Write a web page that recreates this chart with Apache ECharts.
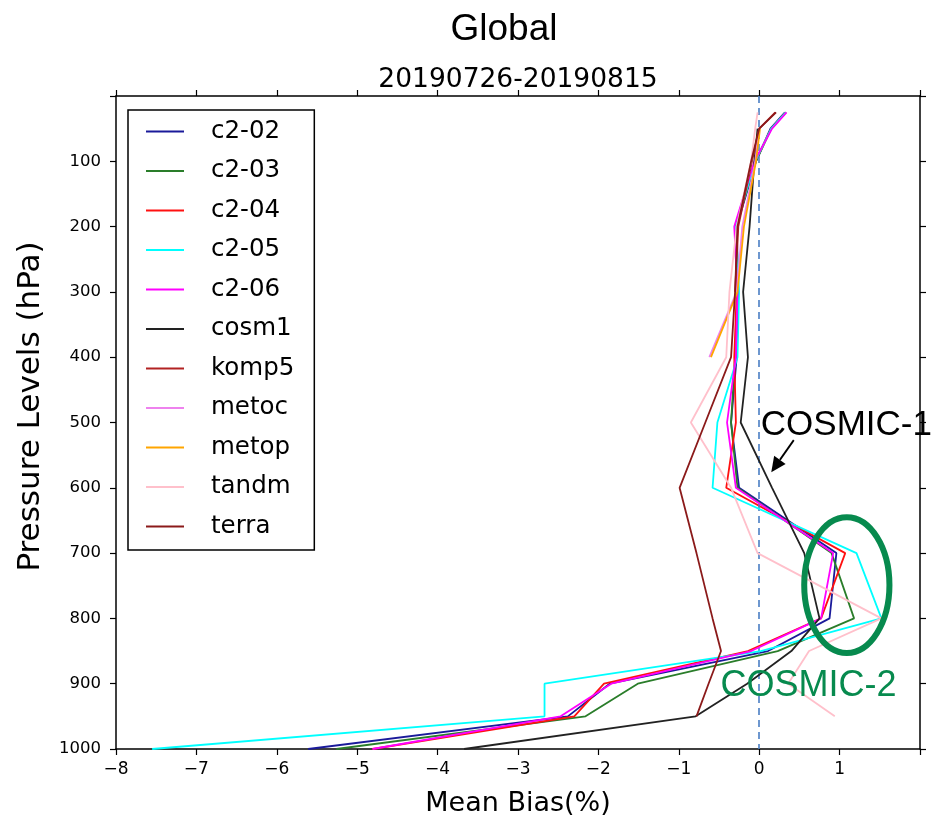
<!DOCTYPE html>
<html><head><meta charset="utf-8">
<script src="https://cdn.jsdelivr.net/npm/echarts@6/dist/echarts.min.js"></script>
<style>html,body{margin:0;padding:0;background:#fff}#c{width:936px;height:822px}</style>
</head><body><div id="c"></div>
<script>
// Pressure levels (hPa)
const levels = [25, 50, 100, 200, 300, 400, 500, 600, 700, 800, 850, 900, 950, 1000];
// Mean bias (%) per level, null = no data
const c2_02 = [0.32, 0.14, -0.04, -0.28, -0.26, -0.28, -0.35, -0.25, 0.96, 0.875, 0.11, -1.86, -2.38, -5.61];
const c2_03 = [0.33, 0.15, -0.04, -0.29, -0.27, -0.30, -0.35, -0.27, 0.90, 1.18, 0.23, -1.51, -2.16, -5.26];
const c2_04 = [0.33, 0.15, -0.05, -0.30, -0.28, -0.31, -0.29, -0.41, 1.07, 0.77, -0.14, -1.93, -2.30, -4.81];
const c2_05 = [0.33, 0.15, -0.05, -0.29, -0.25, -0.27, -0.52, -0.58, 1.21, 1.52, 0.02, -2.67, -2.67, -7.55];
const c2_06 = [0.34, 0.16, -0.06, -0.31, -0.27, -0.29, -0.40, -0.29, 0.92, 0.77, -0.10, -1.84, -2.47, -4.81];
const cosm1 = [null, -0.02, -0.06, -0.12, -0.20, -0.14, -0.23, 0.16, 0.56, 0.75, 0.40, -0.15, -0.79, -3.67];
const komp5 = [0.20, 0.00, -0.09, -0.26, -0.30, null, null, null, null, null, null, null, null, null];
const metoc = [null, 0.00, -0.05, -0.21, -0.28, -0.62, null, null, null, null, null, null, null, null];
const metop = [null, 0.01, -0.04, -0.19, -0.27, -0.60, null, null, null, null, null, null, null, null];
const tandm = [-0.02, -0.05, -0.10, -0.28, -0.37, -0.41, -0.85, -0.35, -0.02, 1.52, 0.62, 0.36, 0.94, null];
const terra = [0.21, 0.00, -0.10, -0.27, -0.30, -0.35, -0.67, -0.99, -0.78, -0.58, -0.475, -0.63, -0.78, null];

const seriesNames = ['c2-02','c2-03','c2-04','c2-05','c2-06','cosm1','komp5','metoc','metop','tandm','terra'];
const seriesValues = [c2_02, c2_03, c2_04, c2_05, c2_06, cosm1, komp5, metoc, metop, tandm, terra];
const seriesColors = ['#1a1a9a','#2a7d2a','#ff1010','#00ffff','#ff00ff','#222222','#b22222','#ee82ee','#ffa500','#ffc0cb','#8b1a1a'];

// Axis ticks
const xTicks = {min: -8, max: 2, interval: 1};
const yTicks = {min: 0, max: 1000, interval: 100};

// Annotation anchors in data coordinates [bias, pressure]
const cosmic1Text = [0.02, 508];
const arrowFrom = [0.43, 527];
const arrowTo = [0.15, 576];
const ellipseCenter = [1.09, 749];
const cosmic2Text = [-0.48, 907];

const chart = echarts.init(document.getElementById('c'), null, {renderer: 'canvas'});
const fmtMinus = v => String(v).replace('-', '\u2212');

const series = seriesNames.map((n, i) => {
  const data = [];
  levels.forEach((p, j) => { if (seriesValues[i][j] !== null) data.push([seriesValues[i][j], p]); });
  const s = {
    name: n, type: 'line', data: data, showSymbol: false, symbol: 'none',
    lineStyle: {color: seriesColors[i], width: 1.8}, itemStyle: {color: seriesColors[i]},
    emphasis: {disabled: true}, silent: true, animation: false, z: 2 + i
  };
  if (i === 0) {
    s.markLine = {silent: true, symbol: 'none', animation: false,
      label: {show: false},
      lineStyle: {color: '#4a7ec4', type: [7, 5], width: 1.6},
      data: [{xAxis: 0}]};
  }
  return s;
});

const axisCommon = {
  axisLine: {show: true, onZero: false, lineStyle: {color: '#000', width: 1.5}},
  axisTick: {show: true, inside: false, length: 6, lineStyle: {color: '#000', width: 1.2}},
  splitLine: {show: false}
};

chart.setOption({
  animation: false,
  backgroundColor: '#fff',
  title: [
    {text: 'Global', left: 499, top: 6, textAlign: 'center',
     textStyle: {fontFamily: 'Liberation Sans', fontSize: 37, fontWeight: 'normal', color: '#000'}},
    {text: '20190726-20190815', left: 513, top: 62, textAlign: 'center',
     textStyle: {fontFamily: 'DejaVu Sans', fontSize: 26.5, fontWeight: 'normal', color: '#000'}}
  ],
  grid: {left: 116, right: 16, top: 96, bottom: 73},
  xAxis: [
    Object.assign({type: 'value', position: 'bottom', min: xTicks.min, max: xTicks.max, interval: xTicks.interval,
      name: 'Mean Bias(%)', nameLocation: 'middle', nameGap: 41,
      nameTextStyle: {fontFamily: 'DejaVu Sans', fontSize: 27, color: '#000'},
      axisLabel: {formatter: v => v === xTicks.max ? '' : fmtMinus(v), fontFamily: 'DejaVu Sans', fontSize: 17, color: '#000', margin: 12}}, axisCommon),
    Object.assign({type: 'value', position: 'top', min: xTicks.min, max: xTicks.max, interval: xTicks.interval,
      axisLabel: {show: false}}, axisCommon)
  ],
  yAxis: [
    Object.assign({type: 'value', position: 'left', inverse: true, min: yTicks.min, max: yTicks.max, interval: yTicks.interval,
      axisLabel: {formatter: v => v === 0 ? '' : String(v), fontFamily: 'DejaVu Sans', fontSize: 16.5, color: '#000', margin: 15}}, axisCommon),
    Object.assign({type: 'value', position: 'right', inverse: true, min: yTicks.min, max: yTicks.max, interval: yTicks.interval,
      axisLabel: {show: false}}, axisCommon)
  ],
  legend: {
    orient: 'vertical', left: 128, top: 110,
    data: seriesNames,
    icon: 'rect', itemWidth: 38, itemHeight: 2, itemGap: 14.5,
    backgroundColor: '#fff', borderColor: '#000', borderWidth: 1.5, borderRadius: 0,
    padding: [9, 20, 11, 18],
    textStyle: {fontFamily: 'DejaVu Sans', fontSize: 24.5, color: '#000', lineHeight: 24, padding: [0, 0, 0, 22]},
    selectedMode: false
  },
  series: series
});

// Annotations
const px = d => chart.convertToPixel({gridIndex: 0}, d);
const a0 = px(arrowFrom), a1 = px(arrowTo);
const dx = a1[0] - a0[0], dy = a1[1] - a0[1], len = Math.hypot(dx, dy);
const ux = dx / len, uy = dy / len, hl = 15, hw = 7;
const base = [a1[0] - ux * hl, a1[1] - uy * hl];
const ec = px(ellipseCenter);
const ex = px([ellipseCenter[0] + 0.53, ellipseCenter[1]]);
const ey = px([ellipseCenter[0], ellipseCenter[1] + 104]);
const t1 = px(cosmic1Text), t2 = px(cosmic2Text);
const gTop = px([0, yTicks.min]), gBot = px([0, yTicks.max]);

chart.setOption({
  graphic: [
    {type: 'text', z: 100, x: 31, y: (gTop[1] + gBot[1]) / 2 - 16, rotation: Math.PI / 2,
     style: {text: 'Pressure Levels (hPa)', fill: '#000', font: '31px "DejaVu Sans"', textAlign: 'center', textVerticalAlign: 'middle'}},
    {type: 'text', left: t1[0], top: t1[1] - 20, z: 100,
     style: {text: 'COSMIC-1', fill: '#000', font: '35px "Liberation Sans"'}},
    {type: 'line', z: 100, shape: {x1: a0[0], y1: a0[1], x2: base[0], y2: base[1]},
     style: {stroke: '#000', lineWidth: 1.8}},
    {type: 'polygon', z: 100, shape: {points: [a1, [base[0] - uy * hw, base[1] + ux * hw], [base[0] + uy * hw, base[1] - ux * hw]]},
     style: {fill: '#000'}},
    {type: 'ellipse', z: 100, shape: {cx: ec[0], cy: ec[1], rx: Math.abs(ex[0] - ec[0]), ry: Math.abs(ey[1] - ec[1])},
     style: {fill: 'none', stroke: '#078a4e', lineWidth: 6}},
    {type: 'text', left: t2[0], top: t2[1] - 20, z: 100,
     style: {text: 'COSMIC-2', fill: '#078a4e', font: '36px "Liberation Sans"'}}
  ]
});
</script>
</body></html>
